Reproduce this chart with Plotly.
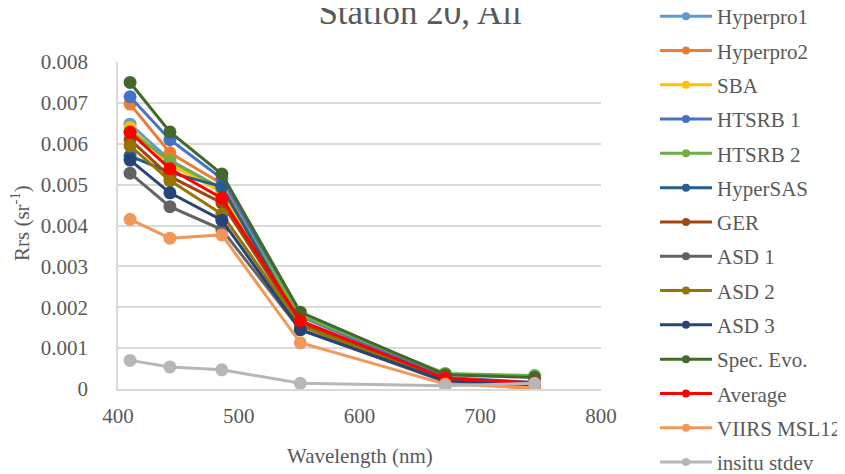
import plotly.graph_objects as go

wavelengths = [410, 443, 486, 551, 671, 745]

series_names = ["Hyperpro1", "Hyperpro2", "SBA", "HTSRB 1", "HTSRB 2", "HyperSAS", "GER",
                "ASD 1", "ASD 2", "ASD 3", "Spec. Evo.", "Average", "VIIRS MSL12", "insitu stdev"]

hyperpro1 = [0.00648, 0.00560, 0.00490, 0.00165, 0.00025, 0.00012]
hyperpro2 = [0.00697, 0.00578, 0.00502, 0.00160, 0.00018, 0.00000]
sba = [0.00640, 0.00550, 0.00482, 0.00162, 0.00022, 0.00010]
htsrb1 = [0.00715, 0.00610, 0.00515, 0.00178, 0.00028, 0.00016]
htsrb2 = [0.00630, 0.00558, 0.00490, 0.00180, 0.00038, 0.00033]
hypersas = [0.00570, 0.00530, 0.00495, 0.00158, 0.00022, 0.00012]
ger = [0.00610, 0.00520, 0.00455, 0.00160, 0.00020, 0.00010]
asd1 = [0.00528, 0.00446, 0.00390, 0.00145, 0.00018, 0.00008]
asd2 = [0.00595, 0.00510, 0.00428, 0.00155, 0.00020, 0.00010]
asd3 = [0.00560, 0.00480, 0.00413, 0.00145, 0.00020, 0.00010]
spec_evo = [0.00750, 0.00629, 0.00526, 0.00188, 0.00035, 0.00028]
average = [0.00628, 0.00539, 0.00467, 0.00167, 0.00026, 0.00015]
viirs = [0.00415, 0.00369, 0.00377, 0.00113, 0.00012, 0.00003]
insitu_stdev = [0.00070, 0.00054, 0.00047, 0.00014, 0.00008, 0.00014]

series_values = [hyperpro1, hyperpro2, sba, htsrb1, htsrb2, hypersas, ger,
                 asd1, asd2, asd3, spec_evo, average, viirs, insitu_stdev]

colors = ["#5B9BD5", "#ED7D31", "#FFC000", "#4472C4", "#70AD47", "#255E91", "#9E480E",
          "#636363", "#997300", "#264478", "#43682B", "#FF0000", "#F1975A", "#B7B7B7"]

x_ticks = [400, 500, 600, 700, 800]
y_ticks = [0, 0.001, 0.002, 0.003, 0.004, 0.005, 0.006, 0.007, 0.008]
y_tick_text = ["0", "0.001", "0.002", "0.003", "0.004", "0.005", "0.006", "0.007", "0.008"]

FONT = "Liberation Serif"
TXT = "#595959"

fig = go.Figure()

for name, vals, col in zip(series_names, series_values, colors):
    fig.add_trace(go.Scatter(
        x=wavelengths, y=vals, name=name, mode="lines+markers",
        line=dict(color=col, width=3),
        marker=dict(color=col, size=13, line=dict(width=0)),
        showlegend=False, legendgroup=name, hoverinfo="x+y+name"))

for name, col in zip(series_names, colors):
    fig.add_trace(go.Scatter(
        x=[None], y=[None], name=name, mode="lines+markers",
        line=dict(color=col, width=3),
        marker=dict(color=col, size=8, line=dict(width=0)),
        showlegend=True, legendgroup=name))

# the page body adds an 8px offset; layout positions below are in figure pixels
W, H = 845, 474
L, R, T, B = 110, 593, 54, 381
pw, ph = R - L, B - T

fig.update_layout(
    width=W, height=H,
    margin=dict(l=L, r=W - R, t=T, b=H - B, autoexpand=False),
    paper_bgcolor="white", plot_bgcolor="white",
    font=dict(family=FONT, size=21, color=TXT),
    title=dict(text="Station 20, All", x=412 / W, xanchor="center",
               y=1 - 4 / H, yanchor="middle", yref="container",
               font=dict(family=FONT, size=35, color=TXT)),
    xaxis=dict(range=[400, 800], tickvals=x_ticks, ticktext=[str(v) for v in x_ticks],
               showgrid=False, zeroline=False, showline=True, linecolor="#D9D9D9",
               linewidth=1.5, ticks="", ticklabelstandoff=7,
               tickfont=dict(family=FONT, size=21, color=TXT)),
    yaxis=dict(range=[0, 0.008], tickvals=y_ticks, ticktext=y_tick_text,
               showgrid=True, gridcolor="#D9D9D9", gridwidth=1.5, zeroline=False,
               showline=True, linecolor="#D9D9D9", linewidth=1.5, ticks="",
               ticklabelstandoff=24,
               tickfont=dict(family=FONT, size=21, color=TXT)),
    legend=dict(x=(647 - L) / pw, xanchor="left", y=(B + 12) / ph, yanchor="top",
                font=dict(family=FONT, size=21, color=TXT),
                itemwidth=52, traceorder="grouped", tracegroupgap=4,
                maxheight=1000,
                bgcolor="rgba(0,0,0,0)", borderwidth=0),
    annotations=[
        dict(text="Rrs (sr<sup>-1</sup>)", xref="paper", yref="paper",
             x=(12 - L) / pw, y=(B - 215) / ph, xanchor="center", yanchor="middle",
             textangle=-90, showarrow=False,
             font=dict(family=FONT, size=21, color=TXT)),
        dict(text="Wavelength (nm)", xref="paper", yref="paper",
             x=0.5, y=(B - 448) / ph, xanchor="center", yanchor="middle",
             showarrow=False, font=dict(family=FONT, size=21, color=TXT)),
    ],
)

fig.write_html("out.html")
